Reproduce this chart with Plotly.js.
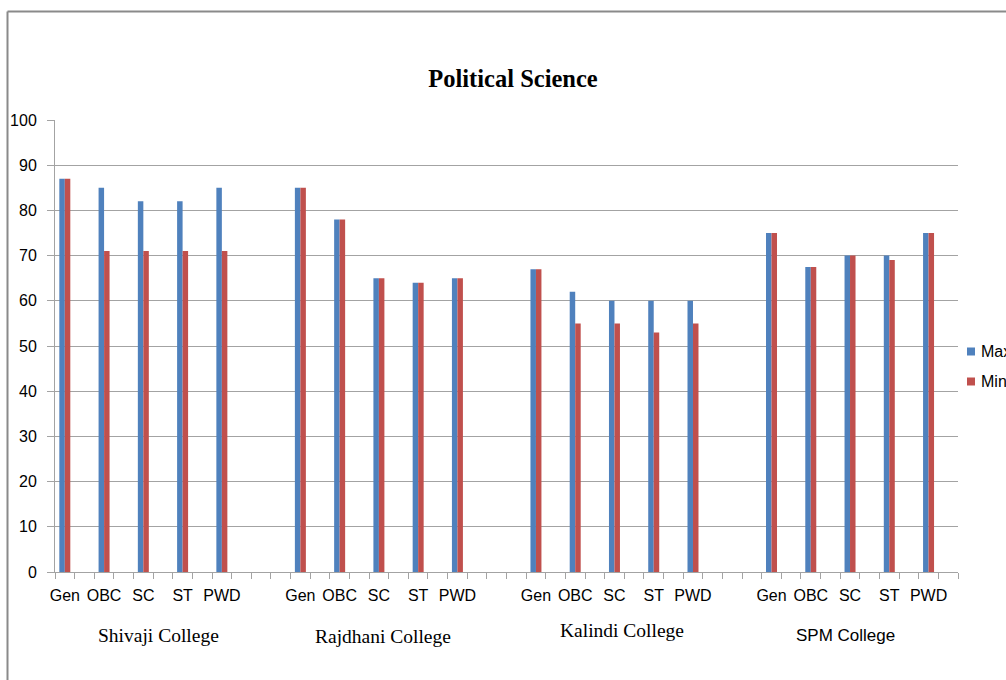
<!DOCTYPE html>
<html><head><meta charset="utf-8">
<script src="https://cdn.plot.ly/plotly-3.0.1.min.js"></script>
<style>html,body{margin:0;padding:0;background:#fff;overflow:hidden}#chart{width:1006px;height:680px}</style>
</head><body><div id="chart"></div>
<script>
// ---- data ----
const colleges = ["Shivaji College", "Rajdhani College", "Kalindi College", "SPM College"];
const castes = ["Gen", "OBC", "SC", "ST", "PWD"];
const seriesNames = ["Max", "Min"];
const maxShivaji = [87, 85, 82, 82, 85];
const minShivaji = [87, 71, 71, 71, 71];
const maxRajdhani = [85, 78, 65, 64, 65];
const minRajdhani = [85, 78, 65, 64, 65];
const maxKalindi = [67, 62, 60, 60, 60];
const minKalindi = [67, 55, 55, 53, 55];
const maxSPM = [75, 67.5, 70, 70, 75];
const minSPM = [75, 67.5, 70, 69, 75];
const yTickVals = [0, 10, 20, 30, 40, 50, 60, 70, 80, 90, 100];

// ---- layout geometry (Excel-style: blank slot after each category, extra blanks between colleges) ----
const W = 1006, H = 680;
const M = {l: 55, r: 48, t: 120, b: 108};
const slotsPerCaste = 2, slotsPerCollege = 12, totalSlots = 46;
const plotW = W - M.l - M.r, plotH = H - M.t - M.b;
const px2x = p => (p - M.l) / plotW;
const px2y = p => (H - M.b - p) / plotH;

const maxByCollege = [maxShivaji, maxRajdhani, maxKalindi, maxSPM];
const minByCollege = [minShivaji, minRajdhani, minKalindi, minSPM];

const xs = [], labels = [], maxVals = [], minVals = [];
colleges.forEach((c, ci) => {
  castes.forEach((k, ki) => {
    xs.push(ci * slotsPerCollege + ki * slotsPerCaste);
    labels.push(k);
    maxVals.push(maxByCollege[ci][ki]);
    minVals.push(minByCollege[ci][ki]);
  });
});

const colors = ["#4F81BD", "#C0504D"];
const gridCol = "#a3a3a3";
const sans = "Liberation Sans, Arial, sans-serif";
const serif = "Liberation Serif, Times New Roman, serif";

const traces = [
  {type: "bar", name: seriesNames[0], x: xs, y: maxVals, marker: {color: colors[0]}, showlegend: false, hoverinfo: "y"},
  {type: "bar", name: seriesNames[1], x: xs, y: minVals, marker: {color: colors[1]}, showlegend: false, hoverinfo: "y"},
  {type: "scatter", x: [], y: [], xaxis: "x2", yaxis: "y", showlegend: false, hoverinfo: "skip"}
];

const boundaries = [];
for (let i = 0; i <= totalSlots; i++) boundaries.push(i - 0.5);

// college label styles (position offsets and fonts)
const collegeStyle = [
  {dx: 15, ypx: 635, font: serif, size: 19.5},
  {dx: 4, ypx: 636, font: serif, size: 19.5},
  {dx: 8, ypx: 630, font: serif, size: 19.5},
  {dx: -5, ypx: 635, font: sans, size: 17}
];

const annotations = colleges.map((c, ci) => ({
  text: c, xref: "x", x: ci * slotsPerCollege + (castes.length - 1) * slotsPerCaste / 2,
  xshift: collegeStyle[ci].dx, yref: "paper", y: px2y(collegeStyle[ci].ypx),
  xanchor: "center", yanchor: "middle", showarrow: false,
  font: {family: collegeStyle[ci].font, size: collegeStyle[ci].size, color: "#000"}
}));

const shapes = [
  // chart-area border (left and top edges visible)
  {type: "line", xref: "paper", yref: "paper", x0: px2x(7.5), x1: px2x(1010), y0: px2y(11.5), y1: px2y(11.5), line: {color: "#8a8a8a", width: 2}},
  {type: "line", xref: "paper", yref: "paper", x0: px2x(7.5), x1: px2x(7.5), y0: px2y(11.5), y1: px2y(684), line: {color: "#8a8a8a", width: 2}}
];

// legend (clipped at right edge, as in reference)
const legendY = [351.5, 381.5];
seriesNames.forEach((n, i) => {
  shapes.push({type: "rect", xref: "paper", yref: "paper",
    x0: px2x(967), x1: px2x(975), y0: px2y(legendY[i] - 4), y1: px2y(legendY[i] + 4),
    fillcolor: colors[i], line: {width: 0}});
  annotations.push({text: n, xref: "paper", yref: "paper", x: px2x(979), y: px2y(legendY[i]),
    xanchor: "left", yanchor: "middle", showarrow: false,
    font: {family: sans, size: 16, color: "#000"}});
});

const layout = {
  width: W, height: H,
  margin: M,
  paper_bgcolor: "#fff", plot_bgcolor: "#fff",
  barmode: "group", bargap: 0.72, bargroupgap: 0,
  title: {text: "Political Science", xref: "container", yref: "container",
    x: 513 / W, y: 1 - 78 / H, xanchor: "center", yanchor: "middle",
    font: {family: serif, size: 24.5, color: "#000", weight: "bold"}},
  xaxis: {range: [-0.5, totalSlots - 0.5], tickmode: "array", tickvals: xs, ticktext: labels,
    ticks: "", showgrid: false, zeroline: false, showline: true, linecolor: gridCol, linewidth: 1,
    tickfont: {family: sans, size: 16, color: "#000"}, ticklabelstandoff: 9, fixedrange: true},
  xaxis2: {overlaying: "x", anchor: "y", side: "bottom", range: [-0.5, totalSlots - 0.5],
    tickmode: "array", tickvals: boundaries, ticks: "outside", ticklen: 6, tickcolor: gridCol,
    showticklabels: false, showgrid: false, zeroline: false, showline: false, fixedrange: true},
  yaxis: {range: [0, 100], tickmode: "array", tickvals: yTickVals, ticks: "outside", ticklen: 7,
    tickcolor: gridCol, showline: true, linecolor: gridCol, linewidth: 1,
    showgrid: true, gridcolor: gridCol, gridwidth: 1, zeroline: false,
    tickfont: {family: sans, size: 16, color: "#000"}, ticklabelstandoff: 7, fixedrange: true},
  annotations: annotations,
  shapes: shapes,
  showlegend: false
};

Plotly.newPlot("chart", traces, layout, {displayModeBar: false, staticPlot: true});
</script>
</body></html>
